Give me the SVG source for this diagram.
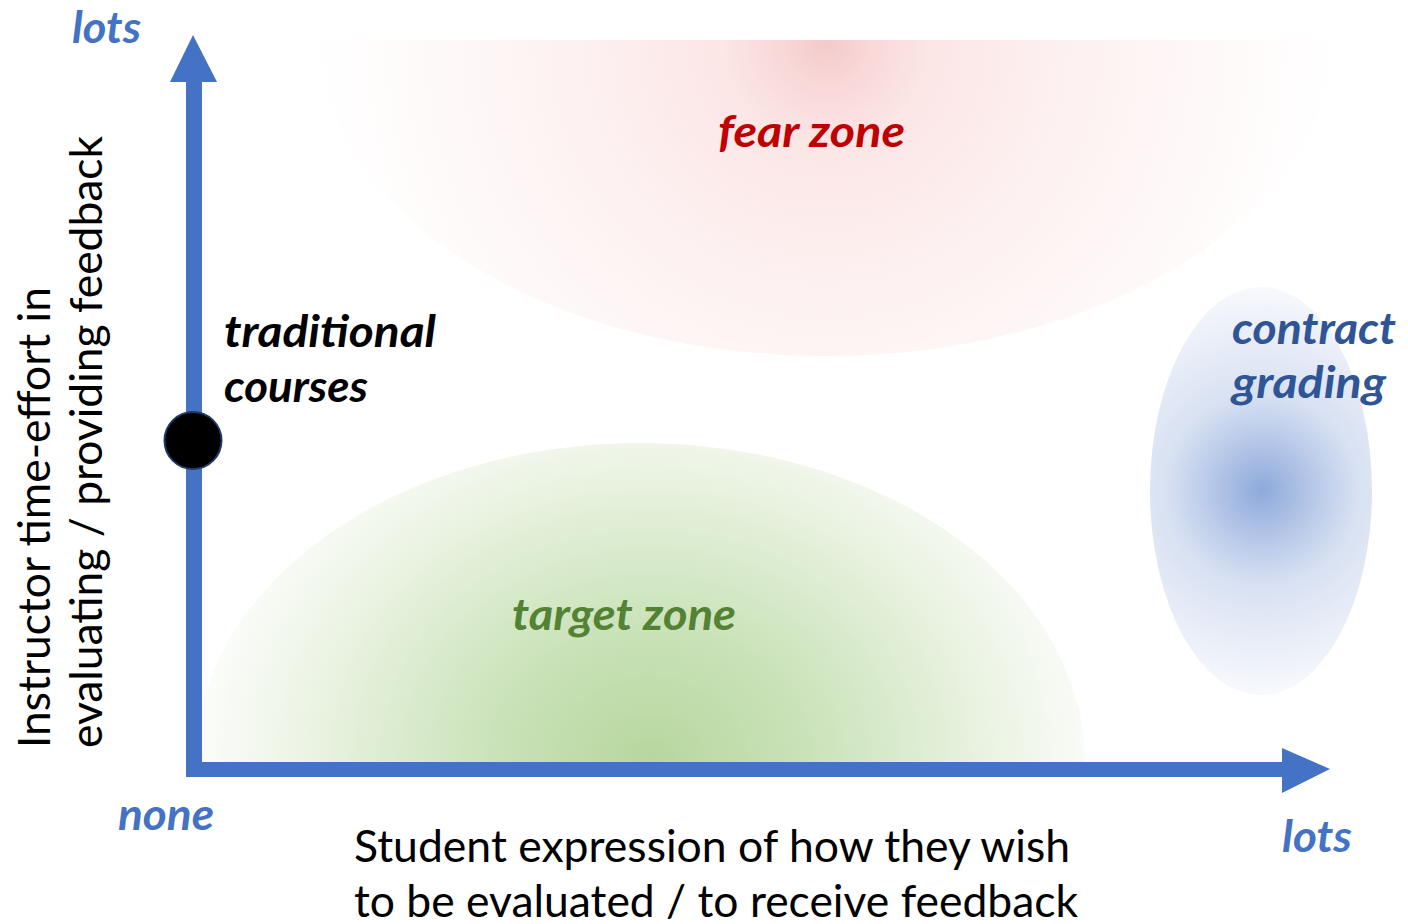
<svg xmlns="http://www.w3.org/2000/svg" width="1408" height="924" viewBox="0 0 1408 924">
  <style>
    .lbl { font-family: Lato, "Liberation Sans", sans-serif; font-weight: 700; font-style: italic; font-size: 44px; }
    .body { font-family: Lato, "Liberation Sans", sans-serif; font-weight: 400; font-size: 44px; fill: #000000; }
    .axis { fill: #4472C4; }
    .blue { fill: #4472C4; }
  </style>
  <defs>
    <radialGradient id="gFear" gradientUnits="userSpaceOnUse" cx="826" cy="42" r="520">
      <stop offset="0" stop-color="#F4C9C9"/>
      <stop offset="0.08" stop-color="#F8D7D7"/>
      <stop offset="0.2" stop-color="#FCE6E6"/>
      <stop offset="0.45" stop-color="#FDF0F0"/>
      <stop offset="0.65" stop-color="#FEF6F6"/>
      <stop offset="0.9" stop-color="#FFFDFD"/>
      <stop offset="1" stop-color="#FFFFFF"/>
    </radialGradient>
    <radialGradient id="gTarget" gradientUnits="userSpaceOnUse" cx="650" cy="760" r="480"
                    gradientTransform="translate(650,760) scale(1,0.85) translate(-650,-760)">
      <stop offset="0" stop-color="#B7D79E"/>
      <stop offset="0.3" stop-color="#C8E1B6"/>
      <stop offset="0.5" stop-color="#D8EACB"/>
      <stop offset="0.7" stop-color="#EAF3E2"/>
      <stop offset="0.85" stop-color="#F5F9F1"/>
      <stop offset="1" stop-color="#FFFFFF"/>
    </radialGradient>
    <radialGradient id="gContract" gradientUnits="userSpaceOnUse" cx="1262" cy="490" r="212">
      <stop offset="0" stop-color="#8EA9DB"/>
      <stop offset="0.2" stop-color="#B0C3E6"/>
      <stop offset="0.45" stop-color="#D8E1F2"/>
      <stop offset="0.6" stop-color="#E1E8F5"/>
      <stop offset="0.85" stop-color="#F0F3FA"/>
      <stop offset="1" stop-color="#FBFCFE"/>
    </radialGradient>
    <clipPath id="clipFear">
      <rect x="0" y="40" width="1408" height="400"/>
    </clipPath>
    <clipPath id="clipTarget">
      <rect x="200" y="400" width="1000" height="362"/>
    </clipPath>
  </defs>

  <rect x="0" y="0" width="1408" height="924" fill="#FFFFFF"/>

  <!-- shaded zones -->
  <g id="fear-zone">
    <ellipse cx="826" cy="40" rx="505" ry="316" fill="url(#gFear)" clip-path="url(#clipFear)"/>
    <text class="lbl" x="718" y="147" fill="#C00000" textLength="187" lengthAdjust="spacingAndGlyphs">fear zone</text>
  </g>

  <g id="target-zone">
    <ellipse cx="640" cy="762" rx="445" ry="319" fill="url(#gTarget)" clip-path="url(#clipTarget)"/>
    <text class="lbl" x="512" y="630" fill="#548235" textLength="224" lengthAdjust="spacingAndGlyphs">target zone</text>
  </g>

  <g id="contract-grading">
    <ellipse cx="1261" cy="491" rx="111" ry="204" fill="url(#gContract)"/>
    <text class="lbl" x="1232" y="344" fill="#2F5597" textLength="164" lengthAdjust="spacingAndGlyphs">contract</text>
    <text class="lbl" x="1232" y="398" fill="#2F5597" textLength="154" lengthAdjust="spacingAndGlyphs">grading</text>
  </g>

  <!-- axes -->
  <g id="connectors">
    <rect class="axis" x="186" y="80" width="16" height="697"/>
    <polygon class="axis" points="193,35 217,82 170,82"/>
    <rect class="axis" x="186" y="762" width="1097" height="15"/>
    <polygon class="axis" points="1330,769 1282,748 1282,793"/>
  </g>

  <g id="traditional-courses">
    <circle cx="193" cy="440.5" r="28.5" fill="#000000" stroke="#1F3864" stroke-width="2"/>
    <text class="lbl" x="224" y="347" fill="#000000" textLength="212" lengthAdjust="spacingAndGlyphs">traditional</text>
    <text class="lbl" x="224" y="402" fill="#000000" textLength="144" lengthAdjust="spacingAndGlyphs">courses</text>
  </g>

  <!-- axis end labels -->
  <g id="axis-labels">
    <text class="lbl blue" x="72" y="43" textLength="69" lengthAdjust="spacingAndGlyphs">lots</text>
    <text class="lbl blue" x="118" y="830" textLength="96" lengthAdjust="spacingAndGlyphs">none</text>
    <text class="lbl blue" x="1282" y="852" textLength="70" lengthAdjust="spacingAndGlyphs">lots</text>
  </g>

  <!-- axis titles -->
  <g id="y-title">
    <text class="body" transform="translate(50,748) rotate(-90)" x="0" y="0" textLength="461" lengthAdjust="spacingAndGlyphs">Instructor time-effort in</text>
    <text class="body" transform="translate(102,748) rotate(-90)" x="0" y="0" textLength="612" lengthAdjust="spacingAndGlyphs">evaluating / providing feedback</text>
  </g>
  <g id="x-title">
    <text class="body" x="354" y="862" textLength="716" lengthAdjust="spacingAndGlyphs">Student expression of how they wish</text>
    <text class="body" x="354" y="917" textLength="724" lengthAdjust="spacingAndGlyphs">to be evaluated / to receive feedback</text>
  </g>
</svg>
